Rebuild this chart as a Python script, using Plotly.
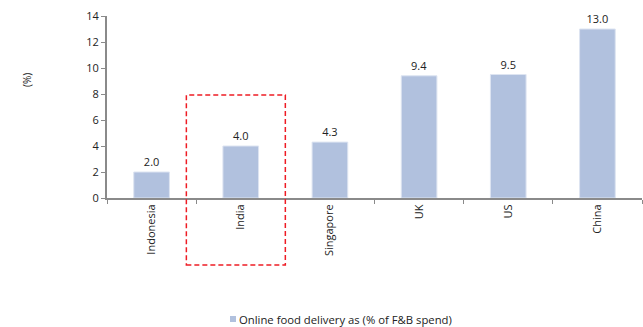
import plotly.graph_objects as go

countries = ["Indonesia", "India", "Singapore", "UK", "US", "China"]
share_pct = [2.0, 4.0, 4.3, 9.4, 9.5, 13.0]
y_ticks = [0, 2, 4, 6, 8, 10, 12, 14]
series_name = "Online food delivery as (% of F&B spend)"

W, H = 643, 327
ML, MR, MT, MB = 107, 1, 16, 129
FONT = "Open Sans"
AXIS_COLOR = "#8a8a8a"
BAR_COLOR = "#b1c1de"

fig = go.Figure(
    go.Bar(
        x=countries,
        y=share_pct,
        name=series_name,
        marker=dict(color=BAR_COLOR, line=dict(color="#dde4f1", width=1)),
        width=0.4,
        text=[f"{v:.1f}" for v in share_pct],
        textposition="outside",
        textfont=dict(size=11, color="#222222", family=FONT),
        cliponaxis=False,
        showlegend=False,
    )
)

n = len(countries)
plot_w = W - ML - MR
plot_h = H - MT - MB


def px_x(px):
    return (px - ML) / plot_w


def px_y(py):
    return (H - MB - py) / plot_h


# highlight box around India
box_x0 = (countries.index("India") - 0.61 + 0.5) / n
box_x1 = (countries.index("India") + 0.5 + 0.5) / n
box_y1 = 7.92 / 14
box_y0 = px_y(265)
fig.add_shape(
    type="rect", xref="paper", yref="paper",
    x0=box_x0, x1=box_x1, y0=box_y0, y1=box_y1,
    line=dict(color="#ee1c24", width=1.5, dash="5px,3px"),
    fillcolor="rgba(0,0,0,0)",
)

# compact legend: small swatch + series label
fig.add_shape(
    type="rect", xref="paper", yref="paper",
    x0=px_x(230), x1=px_x(236), y0=px_y(322), y1=px_y(316),
    line=dict(width=0), fillcolor=BAR_COLOR,
)
fig.add_annotation(
    text=series_name, xref="paper", yref="paper",
    x=px_x(237), y=px_y(319), xanchor="left", yanchor="middle",
    showarrow=False,
    font=dict(size=11.3, color="#222222", family=FONT),
)

fig.add_annotation(
    text="(%)", xref="paper", yref="paper",
    x=px_x(18), y=px_y(80),
    showarrow=False, textangle=-90,
    font=dict(size=10, color="#222222", family=FONT),
)

fig.update_layout(
    width=W, height=H,
    margin=dict(l=ML, r=MR, t=MT, b=MB),
    paper_bgcolor="white", plot_bgcolor="white",
    font=dict(family=FONT, size=11, color="#222222"),
    showlegend=False,
    xaxis=dict(
        showline=True, linecolor=AXIS_COLOR, linewidth=2,
        tickangle=-90, ticks="outside", ticklen=4, tickcolor=AXIS_COLOR,
        tickson="boundaries", showgrid=False,
        tickfont=dict(size=11, color="#222222", family=FONT),
    ),
    yaxis=dict(
        range=[0, 14], tickvals=y_ticks,
        showline=True, linecolor=AXIS_COLOR, linewidth=2,
        ticks="outside", ticklen=4, tickcolor=AXIS_COLOR,
        showgrid=False, zeroline=False,
        tickfont=dict(size=11, color="#222222", family=FONT),
    ),
)

fig.write_html("out.html")
